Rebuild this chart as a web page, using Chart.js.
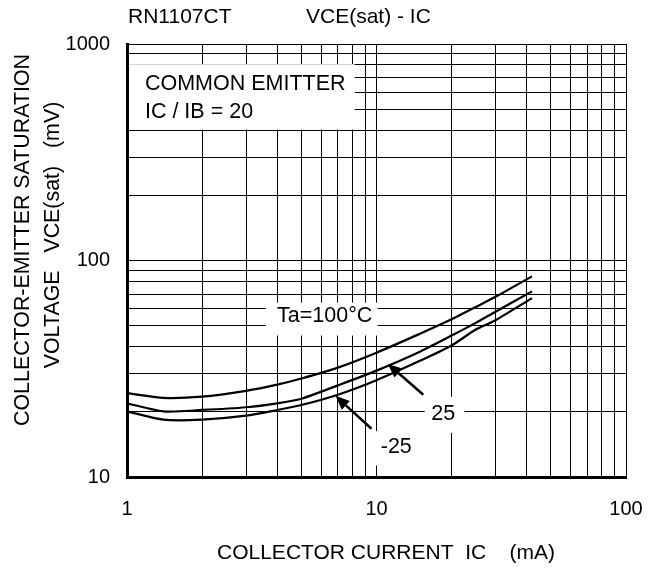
<!DOCTYPE html>
<html>
<head>
<meta charset="utf-8">
<script src="https://cdn.jsdelivr.net/npm/chart.js@4"></script>
<style>
  body { margin: 0; background: #fff; }
  #wrap { width: 657px; height: 577px; }
</style>
</head>
<body>
<div id="wrap"><canvas id="chartVce"></canvas></div>
<script>
// collector current (mA) and VCE(sat) (mV)
const IC = [1, 1.4, 2, 3, 4, 5, 7, 10, 15, 20, 25, 30, 42];
const vce100 = [24.4, 23.2, 23.5, 25, 26.7, 28.5, 32, 37.5, 46, 53.5, 61, 68, 84.5];
const vce25 = [21.9, 20.1, 20.4, 21, 21.9, 23, 26.5, 31, 38, 45, 51.5, 58, 72];
const vceM25 = [20.1, 18.4, 18.4, 19.2, 20.4, 21.5, 24, 28, 34.5, 40.5, 48, 53, 67];

const xGrid = [1, 2, 3, 4, 5, 6, 7, 8, 9, 10, 20, 30, 40, 50, 60, 70, 80, 90, 100];
const yGrid = [10, 20, 30, 40, 50, 60, 70, 80, 90, 100, 200, 300, 400, 500, 600, 700, 800, 900, 1000];
const xLabels = [1, 10, 100];
const yLabels = [10, 100, 1000];

const FONT = '"Liberation Sans", Arial, sans-serif';

// white label boxes, in data units: [x1, y1, x2, y2]
const boxes = [
  [1, 807, 8.17, 403],
  [3.6, 63.9, 10.1, 45],
  [15.6, 23.5, 22.5, 16.0],
  [9.6, 16.3, 14.9, 11.3]
];
// texts in data units: [text, x, y, align]
const notes = [
  ['COMMON EMITTER', 1.18, 655, 'left'],
  ['IC / IB = 20', 1.18, 487, 'left'],
  ['Ta=100°C', 6.2, 55.6, 'center'],
  ['25', 18.5, 19.6, 'center'],
  ['-25', 12.0, 13.8, 'center']
];
// arrows: [tailX, tailY, headX, headY]
const arrows = [
  [15.4, 24.0, 11.1, 33.3],
  [9.55, 16.7, 6.85, 23.7]
];

function series(vals) {
  return IC.map((x, i) => ({ x: x, y: vals[i] }));
}

const labelsPlugin = {
  id: 'labels',
  beforeDatasetsDraw(chart) {
    const c = chart.ctx, xs = chart.scales.x, ys = chart.scales.y;
    c.save();
    c.fillStyle = '#fff';
    boxes.forEach(b => {
      const x1 = Math.max(xs.getPixelForValue(b[0]), chart.chartArea.left + 2);
      const y1 = ys.getPixelForValue(b[1]);
      const x2 = xs.getPixelForValue(b[2]);
      const y2 = ys.getPixelForValue(b[3]);
      c.fillRect(x1, y1, x2 - x1, y2 - y1);
    });
    c.fillStyle = '#000';
    c.font = '21.5px ' + FONT;
    c.textBaseline = 'middle';
    notes.forEach(n => {
      c.textAlign = n[3];
      c.fillText(n[0], xs.getPixelForValue(n[1]), ys.getPixelForValue(n[2]));
    });
    c.restore();
  },
  afterDatasetsDraw(chart) {
    const c = chart.ctx, xs = chart.scales.x, ys = chart.scales.y;
    c.save();
    c.strokeStyle = '#000';
    c.fillStyle = '#000';
    c.lineWidth = 2.5;
    arrows.forEach(a => {
      const x0 = xs.getPixelForValue(a[0]), y0 = ys.getPixelForValue(a[1]);
      const x1 = xs.getPixelForValue(a[2]), y1 = ys.getPixelForValue(a[3]);
      const ang = Math.atan2(y1 - y0, x1 - x0);
      const len = 14, w = 6;
      const bx = x1 - len * Math.cos(ang), by = y1 - len * Math.sin(ang);
      c.beginPath();
      c.moveTo(x0, y0);
      c.lineTo(bx, by);
      c.stroke();
      c.beginPath();
      c.moveTo(x1, y1);
      c.lineTo(bx + w * Math.sin(ang), by - w * Math.cos(ang));
      c.lineTo(bx - w * Math.sin(ang), by + w * Math.cos(ang));
      c.closePath();
      c.fill();
    });

    // titles
    c.font = '21px ' + FONT;
    c.textBaseline = 'middle';
    c.textAlign = 'left';
    c.fillText('RN1107CT', 128, 17);
    c.fillText('VCE(sat) - IC', 306, 17);
    c.textAlign = 'center';
    c.fillText('COLLECTOR CURRENT  IC    (mA)', 386, 553);
    c.translate(23, 240);
    c.rotate(-Math.PI / 2);
    c.font = '21.4px ' + FONT;
    c.fillText('COLLECTOR-EMITTER SATURATION', 0, 0);
    c.fillText('VOLTAGE   VCE(sat)   (mV)', 5, 30);
    c.restore();
  }
};

function fixedTicks(list) {
  return function (scale) {
    scale.ticks = list.map(v => ({ value: v }));
  };
}

const lineStyle = { borderColor: '#000', borderWidth: 2.2, pointRadius: 0, fill: false, tension: 0.25 };

new Chart(document.getElementById('chartVce'), {
  type: 'line',
  data: {
    datasets: [
      Object.assign({ label: 'Ta=100°C', data: series(vce100) }, lineStyle),
      Object.assign({ label: '25', data: series(vce25) }, lineStyle),
      Object.assign({ label: '-25', data: series(vceM25) }, lineStyle)
    ]
  },
  options: {
    responsive: true,
    maintainAspectRatio: false,
    animation: false,
    layout: { padding: { top: 44, right: 31, left: 0, bottom: 0 } },
    plugins: { legend: { display: false }, tooltip: { enabled: false } },
    scales: {
      x: {
        type: 'logarithmic',
        min: 1,
        max: 100,
        afterBuildTicks: fixedTicks(xGrid),
        afterFit: s => { s.height = 100; s.paddingLeft = 0; s.paddingRight = 0; },
        grid: { color: '#000', lineWidth: 1, drawTicks: false },
        border: { color: '#000', width: 3 },
        ticks: {
          autoSkip: false,
          maxRotation: 0,
          padding: 20,
          color: '#000',
          font: { family: FONT, size: 20 },
          callback: v => xLabels.includes(v) ? String(v) : ''
        }
      },
      y: {
        type: 'logarithmic',
        min: 10,
        max: 1000,
        afterBuildTicks: fixedTicks(yGrid),
        afterFit: s => { s.width = 127; s.paddingTop = 0; s.paddingBottom = 0; },
        grid: { color: '#000', lineWidth: 1, drawTicks: false },
        border: { color: '#000', width: 3 },
        ticks: {
          autoSkip: false,
          padding: 17,
          color: '#000',
          font: { family: FONT, size: 20 },
          callback: v => yLabels.includes(v) ? String(v) : ''
        }
      }
    }
  },
  plugins: [labelsPlugin]
});
</script>
</body>
</html>
